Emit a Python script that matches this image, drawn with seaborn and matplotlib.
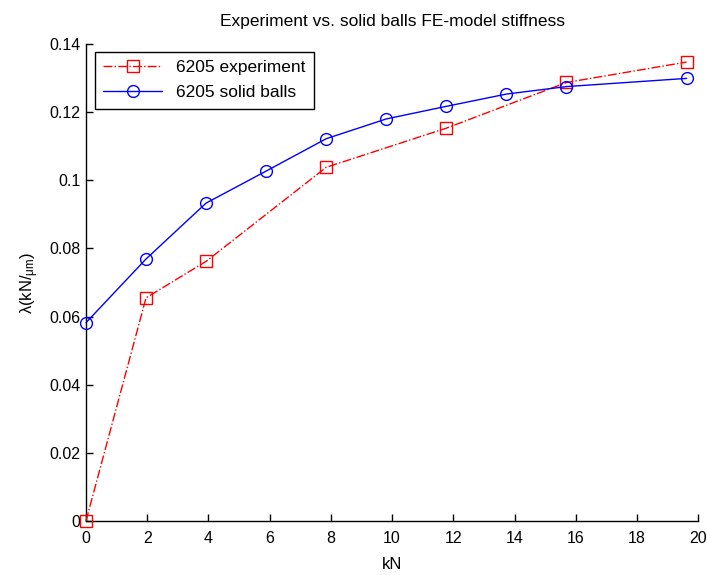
import seaborn as sns
import matplotlib.pyplot as plt
import matplotlib.ticker as mticker

# Load (kN) and stiffness values
load_exp = [0.0, 1.962, 3.924, 7.848, 11.772, 15.696, 19.62]
stiff_exp = [0.0, 0.0655, 0.0762, 0.1038, 0.1153, 0.1287, 0.1347]

load_fe = [0.0, 1.962, 3.924, 5.886, 7.848, 9.81, 11.772, 13.734, 15.696, 19.62]
stiff_fe = [0.0582, 0.0769, 0.0933, 0.1027, 0.1122, 0.1180, 0.1217, 0.1253, 0.1275, 0.1299]

x_ticks = list(range(0, 21, 2))
y_ticks = [0, 0.02, 0.04, 0.06, 0.08, 0.1, 0.12, 0.14]

sns.set_style("ticks", {"xtick.direction": "in", "ytick.direction": "in"})
plt.rcParams['font.family'] = ['Liberation Sans', 'DejaVu Sans']
plt.rcParams['mathtext.fontset'] = 'custom'
plt.rcParams['mathtext.rm'] = 'Liberation Sans'
plt.rcParams['mathtext.it'] = 'Liberation Sans'
plt.rcParams['text.color'] = 'black'
plt.rcParams['axes.labelcolor'] = 'black'

fig = plt.figure(figsize=(7.07, 5.75), dpi=100)
ax = fig.add_axes([0.1216, 0.094, 0.866, 0.8295])

sns.lineplot(x=load_exp, y=stiff_exp, ax=ax, color='red', linestyle='-.', linewidth=1,
             marker='s', markersize=8.5, markerfacecolor='none', markeredgecolor='red',
             markeredgewidth=1, label='6205 experiment', clip_on=False, zorder=3)
sns.lineplot(x=load_fe, y=stiff_fe, ax=ax, color='blue', linestyle='-', linewidth=1,
             marker='o', markersize=8.5, markerfacecolor='none', markeredgecolor='blue',
             markeredgewidth=1, label='6205 solid balls', clip_on=False, zorder=3)

ax.set_xlim(0, 20)
ax.set_ylim(0, 0.14)
ax.set_xticks(x_ticks)
ax.set_yticks(y_ticks)
ax.yaxis.set_major_formatter(mticker.FormatStrFormatter('%g'))
ax.tick_params(labelsize=11.5, length=5, width=1, colors='black')
ax.tick_params(axis='x', pad=7)
ax.tick_params(axis='y', pad=4)
for s in ['top', 'right']:
    ax.spines[s].set_visible(False)
for s in ['left', 'bottom']:
    ax.spines[s].set_linewidth(1)
    ax.spines[s].set_color('black')

ax.set_title('Experiment vs. solid balls FE-model stiffness', fontsize=12.5, pad=13)
ax.set_xlabel('kN', fontsize=12, labelpad=8)
ax.set_ylabel('λ(kN/$_{\\mu\\mathrm{m}}$)', fontsize=12)
ax.yaxis.set_label_coords(-0.073, 0.5)

leg = ax.legend(loc='upper left', bbox_to_anchor=(0.014, 0.984), fontsize=12.5,
                frameon=True, fancybox=False, edgecolor='black', framealpha=1,
                handlelength=3.4, borderpad=0.5, labelspacing=0.55, borderaxespad=0)
leg.get_frame().set_linewidth(1)

fig.savefig('out.png', dpi=100)
